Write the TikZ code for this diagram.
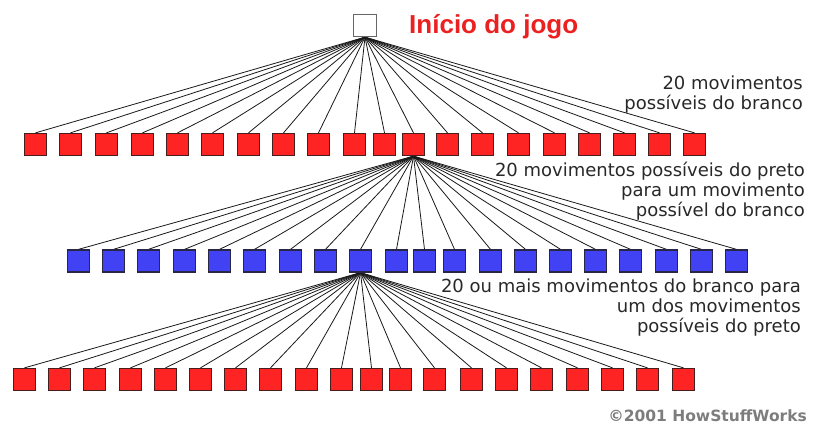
\documentclass[tikz,border=0pt]{standalone}
\usepackage{fontspec}
\setmainfont{DejaVu Sans}
\newfontfamily\headfont{Liberation Sans}
\usetikzlibrary{backgrounds}

\definecolor{redfill}{RGB}{255,36,36}
\definecolor{bluefill}{RGB}{66,66,245}
\definecolor{rededge}{RGB}{70,30,30}
\definecolor{blueedge}{RGB}{40,40,70}
\definecolor{linecol}{RGB}{25,25,25}
\definecolor{titlered}{RGB}{235,32,32}
\definecolor{labelgray}{RGB}{40,40,40}
\definecolor{copygray}{RGB}{125,125,125}

\tikzset{
  sq/.style={line width=1.3pt, minimum width=22pt, minimum height=22pt, inner sep=0pt},
  wsq/.style={sq, fill=white, draw=gray!80!black},
  rsq/.style={sq, fill=redfill, draw=rededge},
  bsq/.style={sq, fill=bluefill, draw=blueedge},
  link/.style={draw=linecol, line width=0.8pt},
  lbl/.style={anchor=base east, align=right, inner sep=0pt, text=labelgray,
              font=\fontsize{18}{20}\selectfont}
}

\begin{document}
\begin{tikzpicture}[x=1pt,y=-1pt]
\useasboundingbox (0,0) rectangle (813,426);

% root of the game tree
\node[wsq, minimum width=23pt] (root) at (365,25.5) {};

% first level: white moves
\foreach \x [count=\i] in {35.5,70.5,106.5,142.5,177.5,212.5,248.5,283.5,318.5,354.5,
                          384.5,413.5,447.5,482.5,518.5,554.5,589.5,624.5,659.5,694.5}
  \node[rsq] (a\i) at (\x,144.5) {};

% second level: black replies to one white move
\foreach \x [count=\i] in {78.5,113.5,148.5,184.5,219.5,254.5,290.5,325.5,360.5,396.5,
                          424.5,454.5,490.5,525.5,560.5,595.5,630.5,666.5,701.5,736.5}
  \node[bsq] (b\i) at (\x,261) {};

% third level: white replies to one black move
\foreach \x [count=\i] in {24.5,59.5,94.5,130.5,165.5,200.5,235.5,270.5,306.5,341.5,
                          371.5,400.5,434.5,471.5,506.5,541.5,577.5,612.5,647.5,683.5}
  \node[rsq] (c\i) at (\x,379.5) {};

% fans of branches, behind the squares
\begin{pgfonlayer}{background}
  \foreach \i in {1,...,20} {
    \draw[link] (root.south) -- (a\i.north);
    \draw[link] (a12.south) -- (b\i.north);
    \draw[link] (b9.south) -- (c\i.north);
  }
\end{pgfonlayer}

% labels (anchored at the baseline of their last line)
\node[anchor=base west, inner sep=0pt, text=titlered,
      font=\headfont\bfseries\fontsize{26}{30}\selectfont] (title) at (409,33) {Início do jogo};

\node[lbl] (l1) at (803,109) {20 movimentos\\possíveis do branco};
\node[lbl] (l2) at (805,216) {20 movimentos possíveis do preto\\para um movimento\\possível do branco};
\node[lbl] (l3) at (801,332) {20 ou mais movimentos do branco para\\um dos movimentos\\possíveis do preto};

\node[anchor=base east, inner sep=0pt, text=copygray,
      font=\bfseries\fontsize{15.5}{18}\selectfont] (copy) at (807,421) {©2001 HowStuffWorks};
\end{tikzpicture}
\end{document}
